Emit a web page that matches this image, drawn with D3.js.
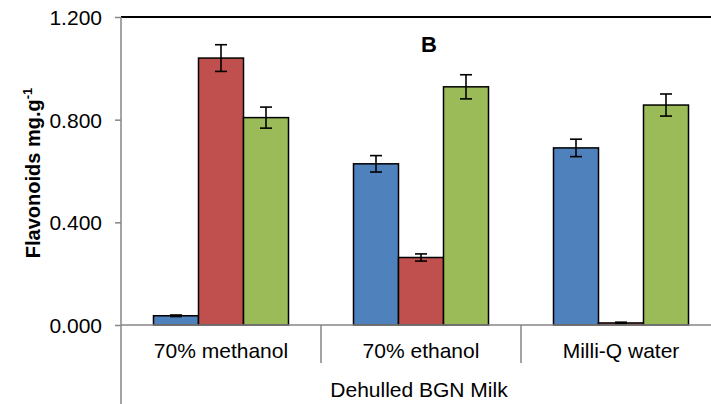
<!DOCTYPE html>
<html>
<head>
<meta charset="utf-8">
<script src="https://cdn.jsdelivr.net/npm/d3@7"></script>
<style>
  body { margin: 0; background: #fff; }
  svg { display: block; font-family: "Liberation Sans", Arial, sans-serif; }
</style>
</head>
<body>
<svg id="chart" width="711" height="404"></svg>
<script>
const categories = ["70% methanol", "70% ethanol", "Milli-Q water"];
const series = ["s1", "s2", "s3"];
const seriesColors = ["#4F81BD", "#C0504D", "#9BBB59"];
// values[series][category]
const values = [
  [0.036, 0.628, 0.690],
  [1.040, 0.263, 0.008],
  [0.808, 0.928, 0.857]
];
const errors = [
  [0.003, 0.032, 0.034],
  [0.052, 0.014, 0.003],
  [0.041, 0.047, 0.043]
];
const yTicks = [0, 0.4, 0.8, 1.2];
const groupLabel = "Dehulled BGN Milk";
const panelLabel = "B";

(function () {
const svg = d3.select("#chart");
const mLeft = 121, mRight = 721, mTop = 17, mBottom = 325;

const x = d3.scaleBand().domain(categories).range([mLeft, mRight]).paddingInner(0).paddingOuter(0);
const groupW = 135;
const xs = d3.scaleBand().domain(series).range([0, groupW]).padding(0);
const y = d3.scaleLinear().domain([0, 1.2]).range([mBottom, mTop]);

const gray = "#868686";

// top border
svg.append("line").attr("x1", mLeft).attr("x2", 711).attr("y1", mTop).attr("y2", mTop)
  .attr("stroke", "#000").attr("stroke-width", 2);

// bars
const data = [];
series.forEach((s, si) => categories.forEach((c, ci) => {
  data.push({s, si, c, v: values[si][ci], e: errors[si][ci]});
}));
const bx = d => x(d.c) + (x.bandwidth() - groupW) / 2 + xs(d.s);

svg.append("g").selectAll("rect").data(data).join("rect")
  .attr("x", bx)
  .attr("y", d => y(d.v))
  .attr("width", xs.bandwidth())
  .attr("height", d => y(0) - y(d.v))
  .attr("fill", d => seriesColors[d.si])
  .attr("stroke", "#000").attr("stroke-width", 1.5);

// error bars
const eg = svg.append("g").attr("stroke", "#000").attr("stroke-width", 1.6);
data.forEach(d => {
  const cx = bx(d) + xs.bandwidth() / 2;
  eg.append("line").attr("x1", cx).attr("x2", cx).attr("y1", y(d.v + d.e)).attr("y2", y(d.v - d.e));
  [d.v + d.e, d.v - d.e].forEach(v => {
    eg.append("line").attr("x1", cx - 6).attr("x2", cx + 6).attr("y1", y(v)).attr("y2", y(v));
  });
});

// y axis
const yAxis = d3.axisLeft(y).tickValues(yTicks).tickFormat(d3.format(".3f")).tickSize(6).tickPadding(13);
const ga = svg.append("g").attr("transform", `translate(${mLeft},0)`).call(yAxis);
ga.select(".domain").remove();
ga.selectAll(".tick line").attr("stroke", gray).attr("stroke-width", 1.5);
ga.selectAll(".tick text").attr("font-size", 21).attr("fill", "#000")
  .attr("font-family", "Liberation Sans, Arial, sans-serif").attr("dy", "0.36em");

// y axis line (extends through category area)
svg.append("line").attr("x1", mLeft).attr("x2", mLeft).attr("y1", mTop).attr("y2", 404)
  .attr("stroke", gray).attr("stroke-width", 1.5);

// x baseline
svg.append("line").attr("x1", mLeft).attr("x2", 711).attr("y1", mBottom).attr("y2", mBottom)
  .attr("stroke", gray).attr("stroke-width", 1.5);

// category separators
categories.slice(1).forEach(c => {
  svg.append("line").attr("x1", x(c)).attr("x2", x(c)).attr("y1", mBottom).attr("y2", 363)
    .attr("stroke", gray).attr("stroke-width", 1.5);
});

// category labels
svg.append("g").selectAll("text").data(categories).join("text")
  .attr("x", d => x(d) + x.bandwidth() / 2)
  .attr("y", 358)
  .attr("text-anchor", "middle")
  .attr("font-size", 21)
  .text(d => d);

svg.append("text").attr("x", 419).attr("y", 397).attr("text-anchor", "middle")
  .attr("font-size", 21).text(groupLabel);

// panel label
svg.append("text").attr("x", 429).attr("y", 52).attr("text-anchor", "middle")
  .attr("font-size", 22).attr("font-weight", "bold").text(panelLabel);

// y title
const yt = svg.append("text").attr("transform", "translate(40,173) rotate(-90)")
  .attr("text-anchor", "middle").attr("font-size", 20).attr("font-weight", "bold");
yt.append("tspan").text("Flavonoids mg.g");
yt.append("tspan").attr("font-size", 13).attr("dy", -8).text("-1");
})();
</script>
</body>
</html>
